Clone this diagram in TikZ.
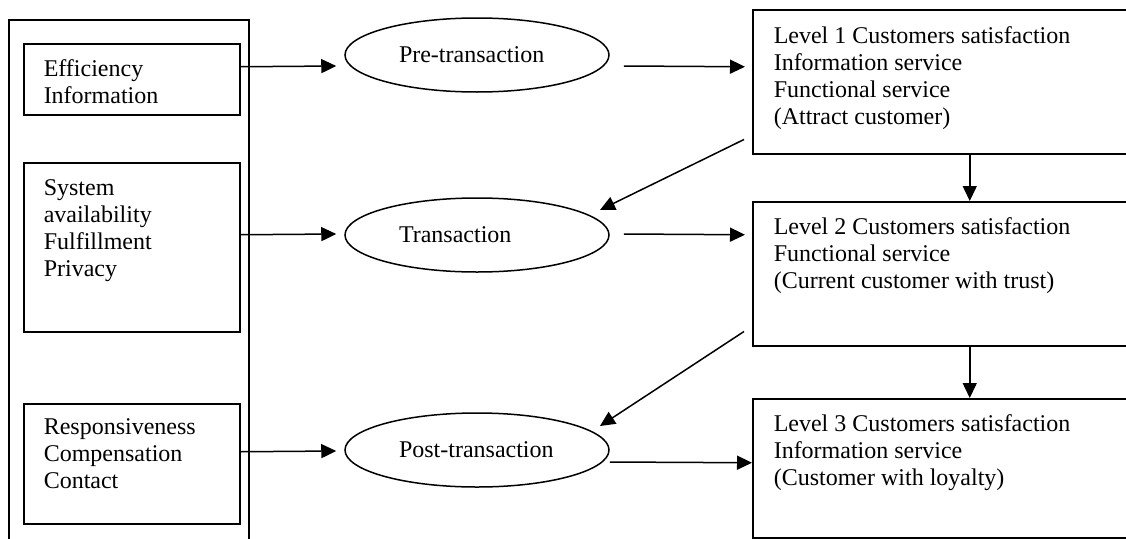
\documentclass[tikz,border=0pt]{standalone}
\usepackage{fontspec}
\setmainfont{Liberation Serif}
\usetikzlibrary{arrows.meta,shapes.geometric}
\begin{document}
\begin{tikzpicture}[x=1pt,y=-1pt,
  line width=1.5pt,
  frame/.style={draw, rectangle, anchor=north west, inner sep=0pt},
  txt/.style={anchor=north west, align=left, inner sep=0pt, font=\fontsize{24}{27}\selectfont},
  phase/.style={draw, ellipse, minimum width=264pt, minimum height=74pt, inner sep=0pt,
                text width=156pt, align=left, font=\fontsize{24}{27}\selectfont},
  arr/.style={-{Triangle[length=15pt,width=14pt]}}]

\useasboundingbox[fill=white] (0,0) rectangle (1126,538);

% outer frame holding the quality dimensions (open at the bottom)
\draw (9,560) -- (9,20) -- (249,20) -- (249,560);

% quality dimension boxes
\node[frame, minimum width=216pt, minimum height=71pt]  (eff)  at (23,43)  {};
\node[frame, minimum width=216pt, minimum height=169pt] (sys)  at (23,162) {};
\node[frame, minimum width=216pt, minimum height=120pt] (resp) at (23,403) {};
\node[txt] (effT)  at (43,58.6)  {Efficiency\\Information};
\node[txt] (sysT)  at (43,178.8) {System\\availability\\Fulfillment\\Privacy};
\node[txt] (respT) at (43,418.1) {Responsiveness\\Compensation\\Contact};

% transaction phases
\node[phase] (pre)   at (477,55)  {Pre-transaction};
\node[phase] (trans) at (477,235) {Transaction};
\node[phase] (post)  at (477,450) {Post-transaction};

% satisfaction levels (running off the right edge)
\node[frame, minimum width=434pt, minimum height=144pt] (L1) at (752,9)   {};
\node[frame, minimum width=434pt, minimum height=144pt] (L2) at (752,201) {};
\node[frame, minimum width=434pt, minimum height=139pt] (L3) at (752,398) {};
\node[txt] (L1T) at (773,25.6)  {Level 1 Customers satisfaction\\Information service\\Functional service\\(Attract customer)};
\node[txt] (L2T) at (773,216.6) {Level 2 Customers satisfaction\\Functional service\\(Current customer with trust)};
\node[txt] (L3T) at (773,413.6) {Level 3 Customers satisfaction\\Information service\\(Customer with loyalty)};

% dimensions -> phases
\draw[arr] ([yshift=12.5pt]eff.east)  -- ([xshift=-8pt,yshift=-11pt]pre.west);
\draw[arr] ([yshift=12.5pt]sys.east)  -- ([xshift=-8pt,yshift=1pt]trans.west);
\draw[arr] ([yshift=12pt]resp.east)   -- ([xshift=-8pt,yshift=-1pt]post.west);

% phases -> levels
\draw[arr] ([xshift=14pt,yshift=-11pt]pre.east)  -- ([xshift=-7pt,yshift=15pt]L1.west);
\draw[arr] ([xshift=14pt,yshift=1pt]trans.east)  -- ([xshift=-7pt,yshift=39pt]L2.west);
\draw[arr] ([yshift=-12pt]post.east)             -- ([yshift=5.5pt]L3.west);

% levels feeding back to the next phase
\draw[arr] ([xshift=-8pt,yshift=15pt]L1.south west) -- ([xshift=123pt,yshift=25pt]trans.center);
\draw[arr] ([xshift=-8pt,yshift=15pt]L2.south west) -- ([xshift=123pt,yshift=24pt]post.center);

% level progression
\draw[arr] (L1.south) -- (L2.north);
\draw[arr] (L2.south) -- (L3.north);
\end{tikzpicture}
\end{document}
